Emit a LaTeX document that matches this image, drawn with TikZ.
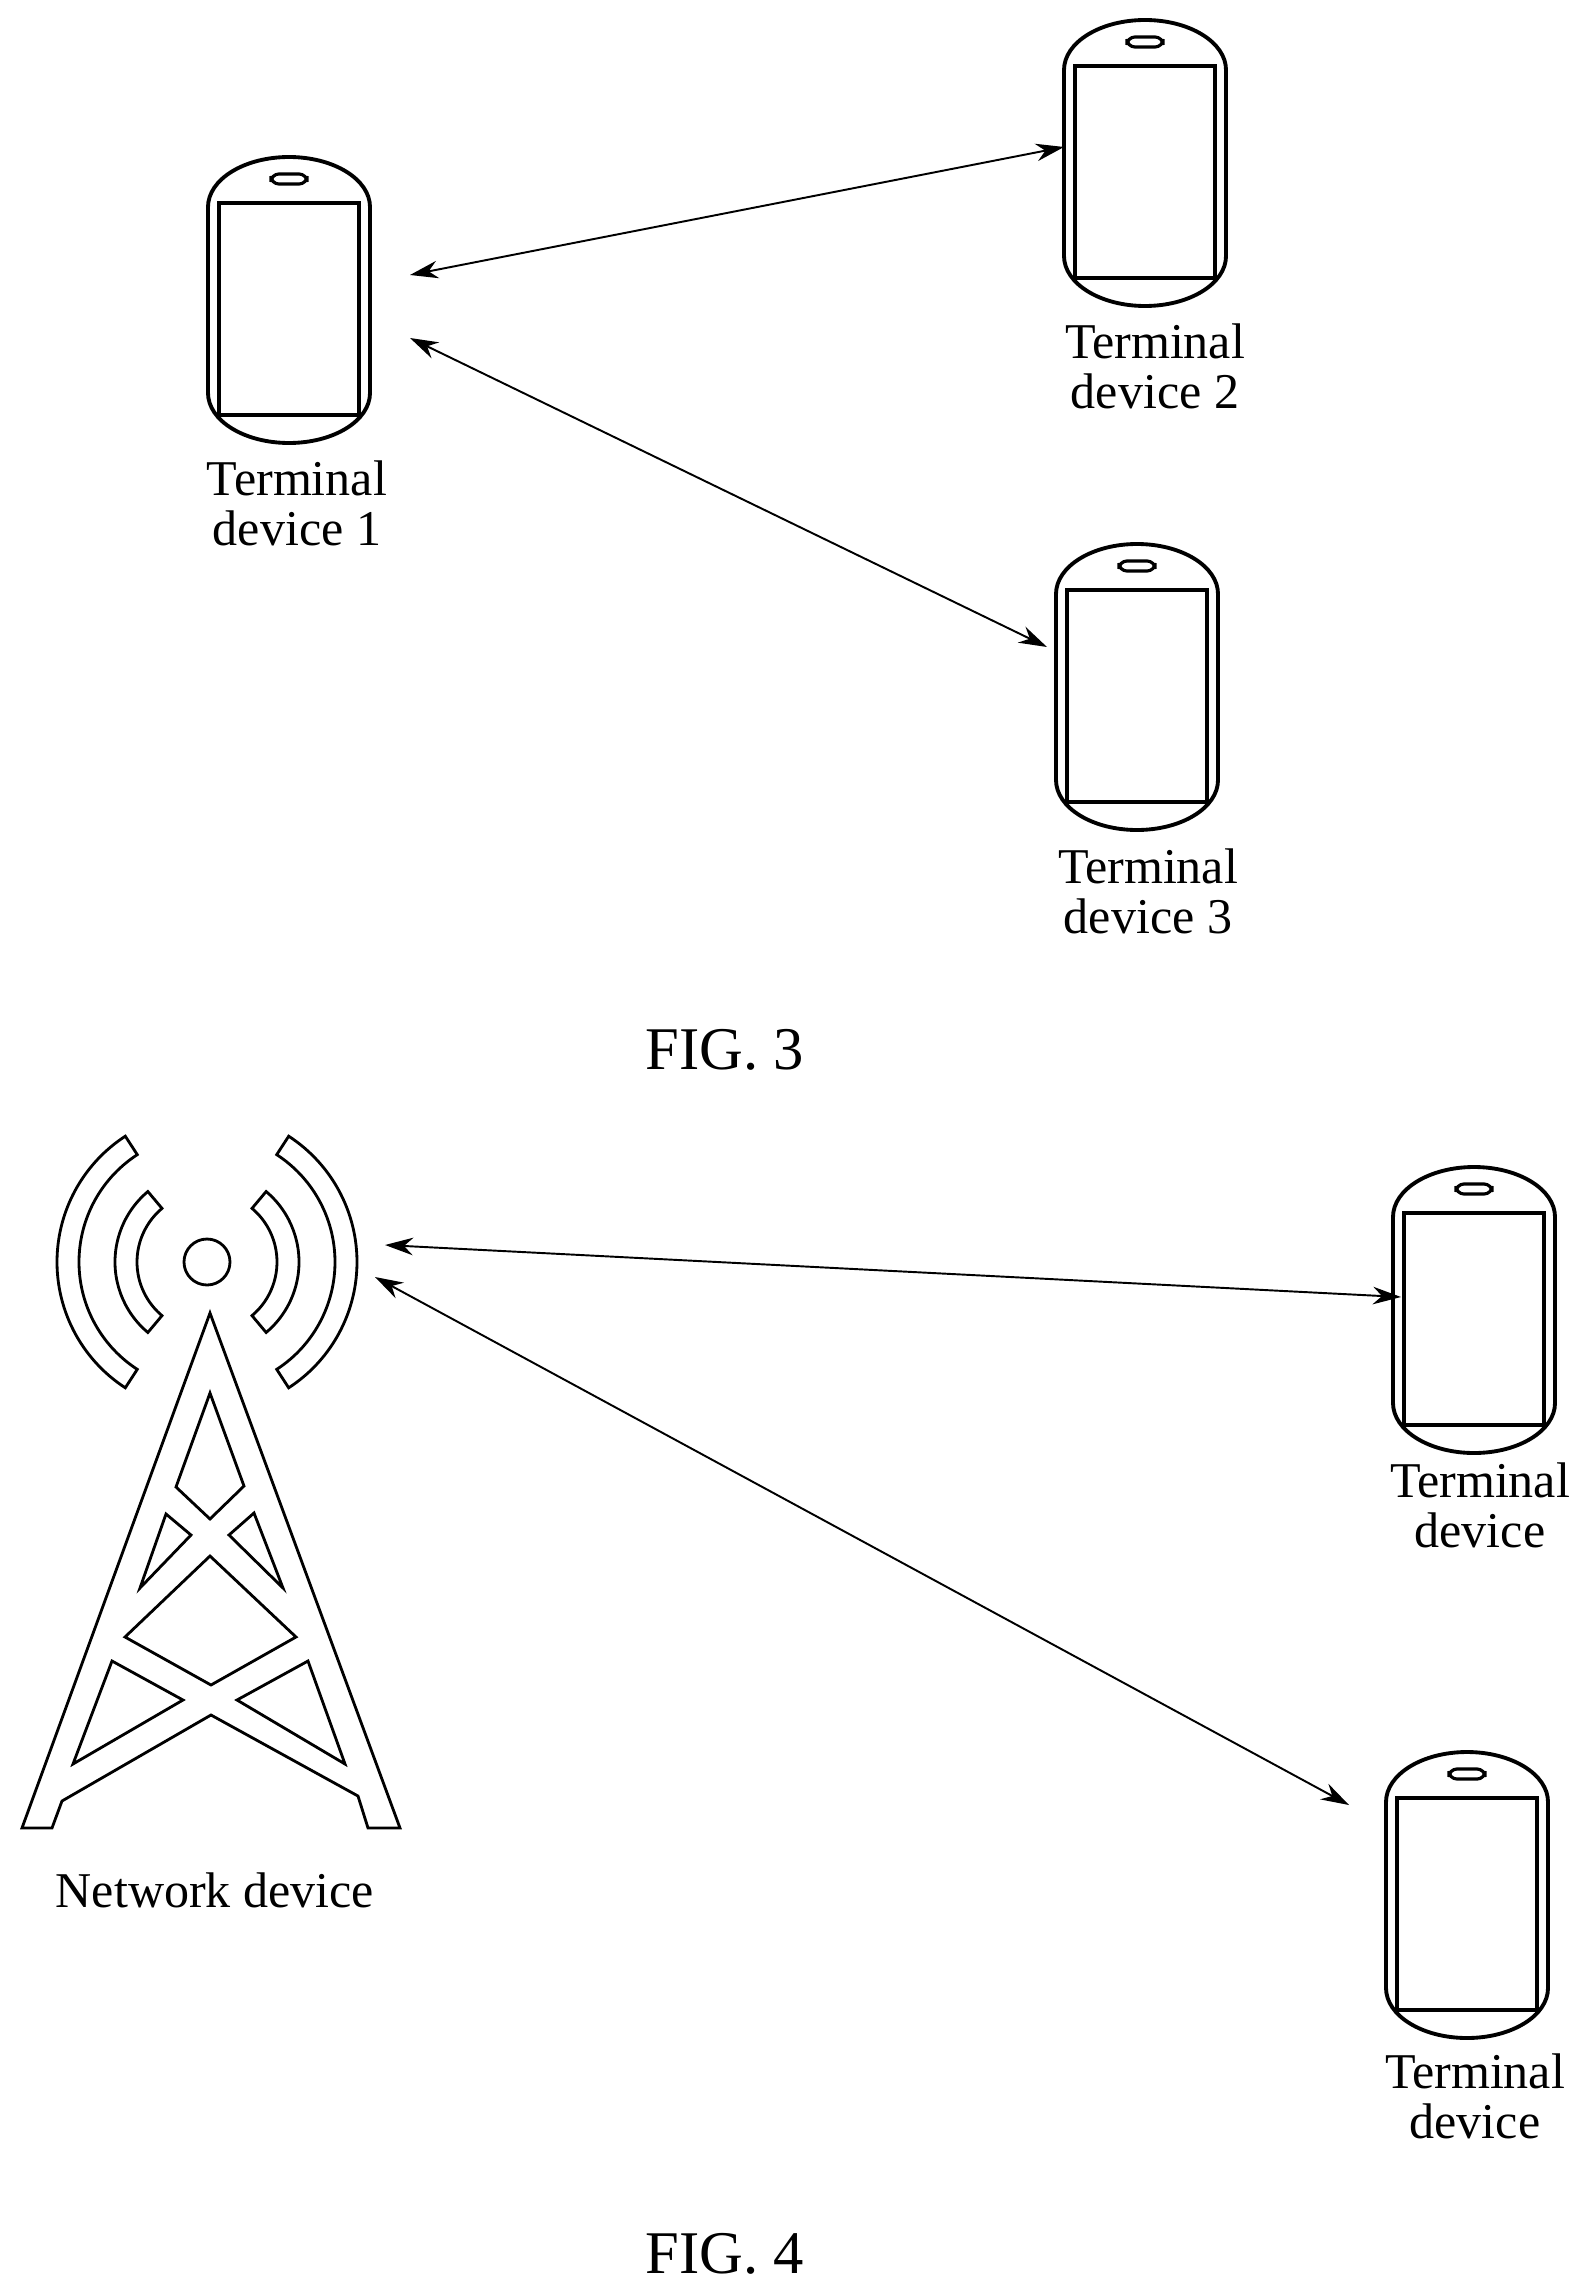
\documentclass[tikz,border=0pt]{standalone}
\usepackage{fontspec}
\setmainfont{Liberation Serif}
\usetikzlibrary{arrows.meta}
\tikzset{
  phoneline/.style={line width=2.2pt},
  towerline/.style={line width=1.6pt, line join=miter},
  link/.style={line width=1.1pt, {Stealth[length=16pt,width=10pt]}-{Stealth[length=16pt,width=10pt]}},
  lbl/.style={align=center, font=\fontsize{28.5}{28.5}\selectfont},
  fig/.style={font=\fontsize{34.5}{36}\selectfont},
}
% phone drawn around a named centre
\newcommand\myphone[3]{%
  \coordinate (#1) at (#2,#3);
  \begin{scope}[shift={(#1)}]
    \draw[phoneline] (-81,-93) -- (-81,93) arc[start angle=180,end angle=0,x radius=81,y radius=50]
      -- (81,-93) arc[start angle=0,end angle=-180,x radius=81,y radius=50] -- cycle;
    \begin{scope}
      \clip (-81,-93) -- (-81,93) arc[start angle=180,end angle=0,x radius=81,y radius=50]
        -- (81,-93) arc[start angle=0,end angle=-180,x radius=81,y radius=50] -- cycle;
      \draw[phoneline] (-70,-97) rectangle (70,115);
    \end{scope}
    \draw[line width=1.8pt, rounded corners=4.5pt] (-18,-126) rectangle (18,-116);
  \end{scope}}
\begin{document}
\begin{tikzpicture}[x=0.02cm,y=-0.02cm]
\useasboundingbox (0,0) rectangle (1588,2291);
%FIG. 3
\myphone{t1}{289}{300}
\myphone{t2}{1145}{163}
\myphone{t3}{1137}{687}
\node[lbl] (l1) at (297,503) {Terminal\\device 1};
\node[lbl] (l2) at (1155,366) {Terminal\\device 2};
\node[lbl] (l3) at (1148,891) {Terminal\\device 3};
\coordinate (a1) at (410,275); \coordinate (b1) at (1064,147);
\coordinate (a2) at (410,338); \coordinate (b2) at (1047,647);
\draw[link] (a1) -- (b1);
\draw[link] (a2) -- (b2);
\node[fig] (f3) at (725,1050) {FIG. 3};
%FIG. 4 tower
\coordinate (c) at (207,1262);
\draw[towerline] (c) circle[radius=23];
\foreach \s/\e/\ro/\ri in {123/237/150/128, -57/57/150/128, 130/230/92/70, -50/50/92/70}{
  \draw[towerline] ([shift={(\s:\ro)}]c) arc[start angle=\s,end angle=\e,radius=\ro]
    -- ([shift={(\e:\ri)}]c) arc[start angle=\e,end angle=\s,radius=\ri] -- cycle;
}
\draw[towerline] (210,1313) -- (400,1828) -- (368,1828) -- (358,1796) -- (211,1715)
  -- (62,1801) -- (52,1828) -- (22,1828) -- cycle;
\draw[towerline] (210,1393) -- (244,1486) -- (210,1519) -- (176,1487) -- cycle;
\draw[towerline] (166,1514) -- (191,1535) -- (140,1588) -- cycle;
\draw[towerline] (254,1513) -- (283,1588) -- (229,1535) -- cycle;
\draw[towerline] (210,1556) -- (296,1637) -- (211,1685) -- (125,1637) -- cycle;
\draw[towerline] (112,1661) -- (183,1700) -- (73,1764) -- cycle;
\draw[towerline] (308,1661) -- (345,1764) -- (237,1700) -- cycle;
\node[lbl] (nd) at (215,1890) {Network device};
\myphone{t4}{1474}{1310}
\myphone{t5}{1467}{1895}
\node[lbl] (l4) at (1480,1505) {Terminal\\device};
\node[lbl] (l5) at (1475,2096) {Terminal\\device};
\coordinate (a3) at (385,1245); \coordinate (b3) at (1401,1297);
\coordinate (a4) at (375,1277); \coordinate (b4) at (1349,1805);
\draw[link] (a3) -- (b3);
\draw[link] (a4) -- (b4);
\node[fig] (f4) at (725,2254) {FIG. 4};
\end{tikzpicture}
\end{document}
